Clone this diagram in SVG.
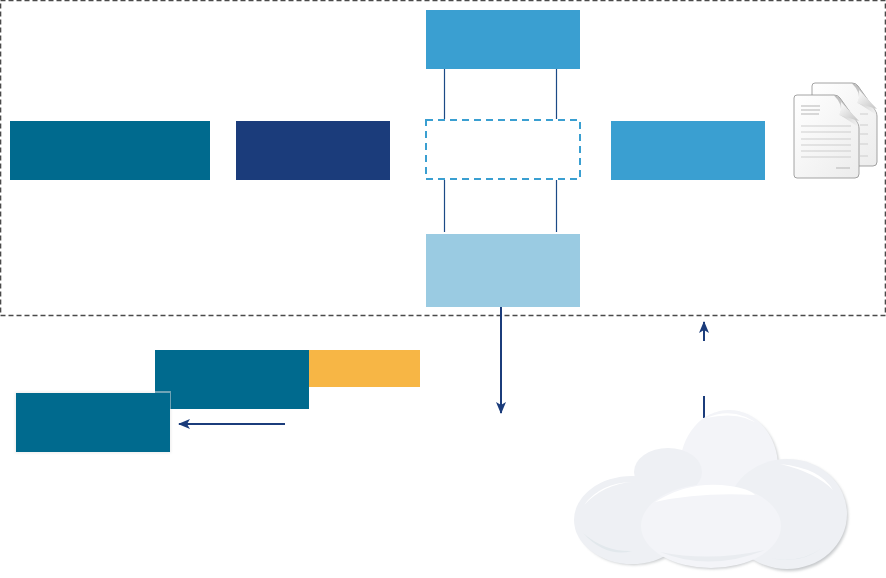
<svg xmlns="http://www.w3.org/2000/svg" width="886" height="578" viewBox="0 0 886 578">
<style>
.teal{fill:#006a8e}.navy{fill:#1b3c7b}.blue{fill:#3a9fd1}.pale{fill:#9acbe2}
.link{stroke:#1b4a86;stroke-width:1.2;fill:none}
.flow{stroke:#1b3c7b;stroke-width:2;fill:none}
.page{stroke:#8d8d8d;stroke-width:.8}
.ln{stroke:#c9c9c9;stroke-width:.9}
.puff{fill:#eef0f4}.puff2{fill:#f3f4f8}
</style>
<defs>
<marker id="ah" markerUnits="userSpaceOnUse" markerWidth="14" markerHeight="14" refX="11" refY="7" orient="auto"><path d="M0 2L12 7L0 12L3 7Z" fill="#1b3c7b"/></marker>
<filter id="soft" x="-10%" y="-10%" width="120%" height="120%"><feGaussianBlur stdDeviation="1.500"/></filter>
<linearGradient id="pg" x1="0" y1="0" x2="1" y2="1"><stop offset="0" stop-color="#fff"/><stop offset="1" stop-color="#ececec"/></linearGradient>
<linearGradient id="curl" x1="0" y1="0" x2="1" y2="1"><stop offset="0" stop-color="#fff"/><stop offset="1" stop-color="#c4c4c4"/></linearGradient>
<linearGradient id="fold" x1="0" y1="0" x2="1" y2="1"><stop offset="0" stop-color="#8f8f8f"/><stop offset="1" stop-color="#f2f2f2"/></linearGradient>
<g id="doc">
<path class="page" d="M3 0H40Q44 0 46 3L63 27Q65 30 65 33V79Q65 83 61 83H3Q0 83 0 80V3Q0 0 3 0Z" fill="url(#pg)"/>
<path d="M40 .5Q44 .5 46 3L63 27Q64 29 64.500 32L46 20Q50 10 40 .5Z" fill="url(#fold)" opacity=".6"/>
<path d="M47 7L65 26V26L45 20Q48 14 47 7Z" fill="url(#curl)"/>
</g>
</defs>

<rect id="frame" x="0.500" y="0.500" width="885" height="315" fill="none" stroke="#4a4a4a" stroke-width="1.600" stroke-dasharray="5 3"/>

<g id="connectors">
<path class="link" d="M444.500 69V119M556.500 69V119M444.500 180V232M556.500 180V232"/>
<path class="flow" d="M501 307V413" marker-end="url(#ah)"/>
<path class="flow" d="M704 341V322" marker-end="url(#ah)"/>
<path class="flow" d="M704 396V418"/>
<path class="flow" d="M285 424H179" marker-end="url(#ah)"/>
</g>

<g id="node-top"><rect class="blue" x="426" y="10" width="154" height="59"/></g>
<g id="node-left"><rect class="teal" x="10" y="121" width="200" height="59"/></g>
<g id="node-navy"><rect class="navy" x="236" y="121" width="154" height="59"/></g>
<g id="node-dashed"><rect x="426" y="120" width="154" height="59" fill="#fff" stroke="#3a9fd1" stroke-width="2" stroke-dasharray="7 5"/></g>
<g id="node-right"><rect class="blue" x="611" y="121" width="154" height="59"/></g>
<g id="node-pale"><rect class="pale" x="426" y="234" width="154" height="73"/></g>

<g id="documents">
<use href="#doc" x="812" y="83"/>
<path class="ln" d="M860 114H868M860 125H868M860 134H868M860 144H868M860 156H868"/>
<use href="#doc" x="794" y="95"/>
<path d="M801 106H820M801 110H820M801 114H819" stroke="#b5b5b5" stroke-width="1" fill="none"/>
<path class="ln" d="M801 126H851M801 132H851M801 139H851M801 145H851M801 151H851M801 157H851"/>
<path d="M836 168H850" stroke="#b5b5b5" stroke-width="1"/>
</g>

<g id="node-teal-back"><rect class="teal" x="155" y="350" width="154" height="59"/></g>
<g id="node-amber"><rect x="309" y="350" width="111" height="37" fill="#f7b645"/></g>
<g id="node-teal-front">
<rect x="15" y="392" width="156" height="61" fill="#000" opacity=".07" filter="url(#soft)"/>
<rect x="155" y="391" width="16" height="2" fill="#6ea3b6"/>
<rect x="169" y="391" width="2" height="18" fill="#6ea3b6"/>
<rect class="teal" x="16" y="393" width="154" height="59"/>
</g>

<g id="cloud">
<g fill="#8e9398" opacity=".5" filter="url(#soft)">
<ellipse cx="634" cy="522" rx="56" ry="43"/><ellipse cx="789" cy="516" rx="59" ry="55"/><ellipse cx="712" cy="528" rx="68" ry="41"/><ellipse cx="731" cy="468" rx="48" ry="55"/>
</g>
<ellipse class="puff2" cx="729" cy="467" rx="49" ry="57"/>
<path d="M706 418Q735 405 762 427Q742 410 706 418Z" fill="#fff"/>
<ellipse class="puff" cx="668" cy="472" rx="34" ry="24"/>
<ellipse class="puff" cx="632" cy="520" rx="58" ry="44"/>
<path d="M584 505Q600 483 632 482Q604 484 584 505Z" fill="#fff"/>
<path d="M583 533Q606 558 632 551Q605 552 583 533Z" fill="#e2e8ec"/>
<ellipse class="puff" cx="787" cy="514" rx="60" ry="55"/>
<path d="M780 464Q820 468 833 490Q815 472 780 464Z" fill="#fff"/>
<path d="M770 558Q800 565 822 548Q800 564 770 558Z" fill="#e2e8ec"/>
<ellipse class="puff2" cx="711" cy="526" rx="70" ry="42"/>
<path d="M655 502Q690 480 730 486Q750 489 755 495Q700 492 655 502Z" fill="#fff"/>
<path d="M660 552Q710 572 765 550Q710 562 660 552Z" fill="#e9ecf0"/>
</g>
</svg>
